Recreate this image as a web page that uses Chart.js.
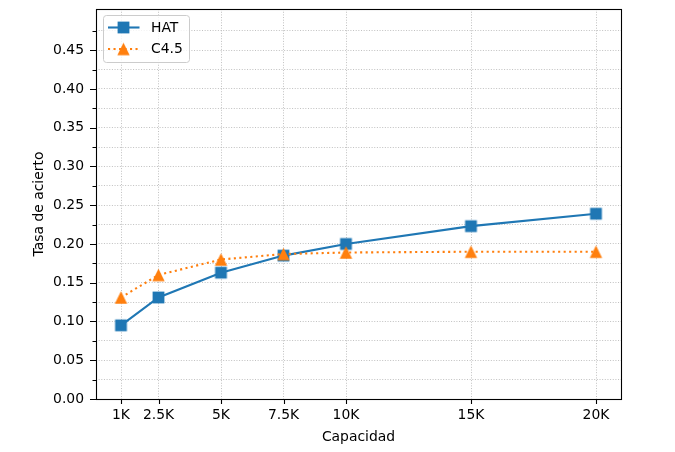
<!DOCTYPE html>
<html>
<head>
<meta charset="utf-8">
<script src="https://cdn.jsdelivr.net/npm/chart.js@4.4.0/dist/chart.umd.min.js"></script>
<style>
  html, body { margin: 0; padding: 0; background: #ffffff; }
  #wrap { width: 675px; height: 452px; }
</style>
</head>
<body>
<div id="wrap"><canvas id="c" width="675" height="452"></canvas></div>
<script>
// Cache capacity (entries) and hit rate of each policy
const capacities = [1000, 2500, 5000, 7500, 10000, 15000, 20000];
const capacityLabels = ['1K', '2.5K', '5K', '7.5K', '10K', '15K', '20K'];
const hatRates = [0.095, 0.131, 0.163, 0.185, 0.200, 0.223, 0.239];
const c45Rates = [0.131, 0.160, 0.180, 0.187, 0.189, 0.190, 0.190];
const seriesNames = ['HAT', 'C4.5'];

// y ticks: labelled majors and unlabelled minors
const rateMajorTicks = [0.00, 0.05, 0.10, 0.15, 0.20, 0.25, 0.30, 0.35, 0.40, 0.45];
const rateMinorTicks = [0.025, 0.075, 0.125, 0.175, 0.225, 0.275, 0.325, 0.375, 0.425, 0.475];

const FONT = "'DejaVu Sans', 'Liberation Sans', sans-serif";
const FONT_SIZE = 13.9;
const BLUE = '#1f77b4';
const ORANGE = '#ff7f0e';

const allRateTicks = rateMajorTicks.concat(rateMinorTicks).sort((a, b) => a - b);
const isMajor = v => rateMajorTicks.some(m => Math.abs(m - v) < 1e-9);

// Marker images: filled square and upward triangle as wide as it is tall
function makeMarker(shape, size, color) {
  const cv = document.createElement('canvas');
  cv.width = 15; cv.height = 15;
  const g = cv.getContext('2d');
  const c = 7.5, h = size / 2;
  g.fillStyle = color;
  g.beginPath();
  if (shape === 'square') {
    g.rect(c - h, c - h, size, size);
  } else {
    g.moveTo(c, c - h);
    g.lineTo(c + h, c + h);
    g.lineTo(c - h, c + h);
    g.closePath();
  }
  g.fill();
  return cv;
}
const squareMarker = makeMarker('square', 11.8, BLUE);
const triangleMarker = makeMarker('triangle', 12.4, ORANGE);

// Frame, tick marks and legend box drawn on top of the plot
const framePlugin = {
  id: 'frameAndLegend',
  afterDraw(chart) {
    const ctx = chart.ctx;
    const a = chart.chartArea;
    const xs = chart.scales.x, ys = chart.scales.y;
    ctx.save();
    ctx.strokeStyle = '#000000';
    ctx.lineWidth = 1.1;
    ctx.setLineDash([]);
    // tick marks
    ctx.beginPath();
    allRateTicks.forEach(v => {
      const y = Math.round(ys.getPixelForValue(v)) + 0.5;
      const len = isMajor(v) ? 6 : 3.5;
      ctx.moveTo(a.left - len, y);
      ctx.lineTo(a.left, y);
    });
    capacities.forEach(v => {
      const x = Math.round(xs.getPixelForValue(v)) + 0.5;
      ctx.moveTo(x, a.bottom);
      ctx.lineTo(x, a.bottom + 5);
    });
    ctx.stroke();
    // frame
    ctx.strokeRect(Math.round(a.left) + 0.5, Math.round(a.top) + 0.5,
      Math.round(a.right - a.left), Math.round(a.bottom - a.top));

    // legend
    const lx = 103.5, ly = 15.5, lw = 86, lh = 47, r = 3;
    ctx.beginPath();
    ctx.moveTo(lx + r, ly);
    ctx.lineTo(lx + lw - r, ly);
    ctx.quadraticCurveTo(lx + lw, ly, lx + lw, ly + r);
    ctx.lineTo(lx + lw, ly + lh - r);
    ctx.quadraticCurveTo(lx + lw, ly + lh, lx + lw - r, ly + lh);
    ctx.lineTo(lx + r, ly + lh);
    ctx.quadraticCurveTo(lx, ly + lh, lx, ly + lh - r);
    ctx.lineTo(lx, ly + r);
    ctx.quadraticCurveTo(lx, ly, lx + r, ly);
    ctx.closePath();
    ctx.fillStyle = 'rgba(255,255,255,0.8)';
    ctx.fill();
    ctx.strokeStyle = '#cccccc';
    ctx.lineWidth = 1;
    ctx.stroke();

    chart.data.datasets.forEach((ds, i) => {
      const rowY = 27.5 + i * 21.5;
      ctx.strokeStyle = ds.borderColor;
      ctx.lineWidth = ds.borderWidth;
      ctx.lineCap = ds.borderCapStyle || 'butt';
      ctx.setLineDash(ds.borderDash || []);
      ctx.beginPath();
      ctx.moveTo(108, rowY);
      ctx.lineTo(139.5, rowY);
      ctx.stroke();
      ctx.setLineDash([]);
      Chart.helpers.drawPoint(ctx, {
        pointStyle: ds.pointStyle, rotation: 0,
        radius: ds.pointRadius, borderWidth: 0
      }, 123.5, rowY);
      ctx.fillStyle = '#000000';
      ctx.font = FONT_SIZE + 'px ' + FONT;
      ctx.textAlign = 'left';
      ctx.textBaseline = 'middle';
      ctx.fillText(ds.label, 151, rowY + 0.5);
    });
    ctx.restore();
  }
};

new Chart(document.getElementById('c'), {
  type: 'line',
  data: {
    datasets: [
      {
        label: seriesNames[0],
        data: capacities.map((x, i) => ({ x: x, y: hatRates[i] })),
        borderColor: BLUE,
        backgroundColor: BLUE,
        borderWidth: 2.1,
        pointStyle: squareMarker,
        pointRadius: 7,
        pointHoverRadius: 7,
        tension: 0,
        order: 1
      },
      {
        label: seriesNames[1],
        data: capacities.map((x, i) => ({ x: x, y: c45Rates[i] })),
        borderColor: ORANGE,
        backgroundColor: ORANGE,
        borderWidth: 2.1,
        borderDash: [2.1, 3.4],
        borderCapStyle: 'butt',
        pointStyle: triangleMarker,
        pointRadius: 7,
        pointHoverRadius: 7,
        tension: 0,
        order: 0
      }
    ]
  },
  options: {
    responsive: false,
    devicePixelRatio: 1,
    animation: false,
    events: [],
    layout: { padding: { top: 7, right: 54, left: 0, bottom: 0 } },
    plugins: {
      legend: { display: false },
      tooltip: { enabled: false }
    },
    scales: {
      x: {
        type: 'linear',
        min: 0,
        max: 21000,
        afterBuildTicks: s => { s.ticks = capacities.map(v => ({ value: v })); },
        afterFit: s => { s.height = 53; s.paddingLeft = 0; s.paddingRight = 0; },
        ticks: {
          autoSkip: false,
          maxRotation: 0,
          padding: 8.5,
          color: '#000000',
          font: { family: FONT, size: FONT_SIZE },
          callback: v => capacityLabels[capacities.indexOf(v)]
        },
        grid: { color: '#b0b0b0', lineWidth: 0.8, drawTicks: false },
        border: { display: false, dash: [1, 1.65] },
        title: {
          display: true,
          text: 'Capacidad',
          color: '#000000',
          font: { family: FONT, size: FONT_SIZE },
          padding: { top: 0, bottom: 6.5 }
        }
      },
      y: {
        type: 'linear',
        min: 0,
        max: 0.503,
        afterBuildTicks: s => { s.ticks = allRateTicks.map(v => ({ value: v })); },
        afterFit: s => { s.width = 96; s.paddingTop = 0; s.paddingBottom = 0; },
        ticks: {
          autoSkip: false,
          padding: 12,
          color: '#000000',
          font: { family: FONT, size: FONT_SIZE },
          callback: v => isMajor(v) ? v.toFixed(2) : ''
        },
        grid: { color: '#b0b0b0', lineWidth: 0.8, drawTicks: false },
        border: { display: false, dash: [1, 1.65] },
        title: {
          display: true,
          text: 'Tasa de acierto',
          color: '#000000',
          font: { family: FONT, size: FONT_SIZE },
          padding: { top: 31, bottom: 0 }
        }
      }
    }
  },
  plugins: [framePlugin]
});
</script>
</body>
</html>
